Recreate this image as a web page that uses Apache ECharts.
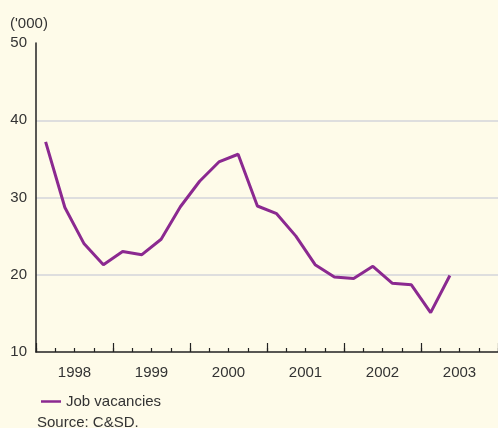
<!DOCTYPE html>
<html>
<head>
<meta charset="utf-8">
<script src="https://cdn.jsdelivr.net/npm/echarts@6/dist/echarts.min.js"></script>
<style>
html,body{margin:0;padding:0;background:#fefbe9;}
#chart{width:498px;height:428px;}
</style>
</head>
<body>
<div id="chart"></div>
<script>
var years = ['1998', '1999', '2000', '2001', '2002', '2003'];
var quarters = [
  '1998Q1','1998Q2','1998Q3','1998Q4',
  '1999Q1','1999Q2','1999Q3','1999Q4',
  '2000Q1','2000Q2','2000Q3','2000Q4',
  '2001Q1','2001Q2','2001Q3','2001Q4',
  '2002Q1','2002Q2','2002Q3','2002Q4',
  '2003Q1','2003Q2','2003Q3','2003Q4'
];
var jobVacancies = [
  37.2, 28.7, 24.0, 21.3,
  23.0, 22.6, 24.6, 28.8,
  32.1, 34.6, 35.6, 28.9,
  27.9, 25.0, 21.3, 19.7,
  19.5, 21.1, 18.9, 18.7,
  15.1, 19.9
];
var yTicks = [10, 20, 30, 40, 50];
var seriesName = 'Job vacancies';

var font = 'Liberation Sans, Arial, sans-serif';
var chart = echarts.init(document.getElementById('chart'), null, {renderer: 'canvas'});
chart.setOption({
  backgroundColor: '#fefbe9',
  animation: false,
  textStyle: {fontFamily: font},
  grid: [
    {left: 36, right: 0, top: 43, bottom: 76, containLabel: false},
    {left: 36, right: 0, top: 43, bottom: 76, containLabel: false}
  ],
  xAxis: [
    {
      type: 'category', gridIndex: 0, data: quarters, boundaryGap: true,
      axisLine: {show: true, lineStyle: {color: '#222', width: 1.5}},
      axisTick: {show: true, inside: true, length: 4, interval: 0, lineStyle: {color: '#222', width: 1.2}},
      axisLabel: {show: false},
      splitLine: {show: false}
    },
    {
      type: 'category', gridIndex: 1, data: years, boundaryGap: true,
      axisLine: {show: false},
      axisTick: {show: true, inside: true, length: 9, interval: 0, lineStyle: {color: '#222', width: 1.2}},
      axisLabel: {show: true, interval: 0, fontSize: 15, color: '#333', margin: 13, fontFamily: font},
      splitLine: {show: false}
    }
  ],
  yAxis: [
    {
      type: 'value', gridIndex: 0, min: yTicks[0], max: yTicks[yTicks.length - 1], interval: 10,
      axisLine: {show: true, lineStyle: {color: '#222', width: 1.5}},
      axisTick: {show: false},
      axisLabel: {fontSize: 15, color: '#333', margin: 9, fontFamily: font},
      splitLine: {show: true, lineStyle: {color: ['transparent', '#dedede', '#dedede', '#dedede', 'transparent'], width: 2}}
    },
    {
      type: 'value', gridIndex: 1, min: 10, max: 50, show: false
    }
  ],
  legend: {
    show: true, left: 36, top: 389, itemWidth: 20, itemHeight: 10, itemGap: 10,
    icon: 'path://M0,4L20,4L20,6.5L0,6.5Z',
    textStyle: {fontSize: 15, color: '#333', fontFamily: font},
    data: [seriesName]
  },
  graphic: [
    {type: 'text', left: 10, top: 16, style: {text: "('000)", fill: '#333', font: '15px ' + font}},
    {type: 'text', left: 37, top: 415, style: {text: 'Source: C&SD.', fill: '#333', font: '15px ' + font}}
  ],
  series: [
    {
      name: seriesName, type: 'line', xAxisIndex: 0, yAxisIndex: 0,
      data: jobVacancies, symbol: 'none', showSymbol: false,
      lineStyle: {color: '#8b2990', width: 3},
      itemStyle: {color: '#8b2990'}
    }
  ]
});
</script>
</body>
</html>
